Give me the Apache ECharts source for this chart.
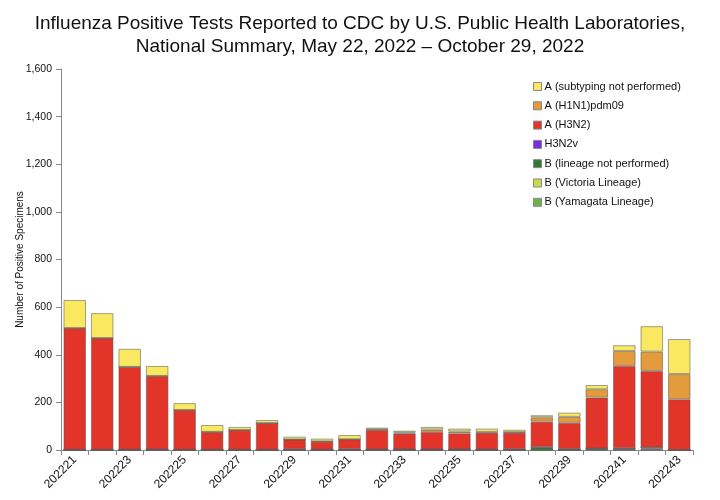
<!DOCTYPE html>
<html><head><meta charset="utf-8">
<script src="https://cdn.jsdelivr.net/npm/echarts@6/dist/echarts.min.js"></script>
<style>html,body{margin:0;padding:0;background:#fff}#c{width:720px;height:500px}</style>
</head><body><div id="c"></div>
<script>
const weeks = ['202221','202222','202223','202224','202225','202226','202227','202228','202229','202230','202231','202232','202233','202234','202235','202236','202237','202238','202239','202240','202241','202242','202243'];
const bYamagata = [0,0,0,0,0,0,0,0,0,0,0,0,0,0,0,0,0,0,0,0,0,0,0];
const bVictoria = [0,0,0,0,0,0,0,0,0,0,0,0,0,0,0,0,0,0,0,4,4,5,0];
const bLineageNP = [1,1,1,2,1,1,1,1,3,1,1,2,2,2,2,2,3,12,4,2,3,5,0];
const h3n2v = [0,0,0,0,0,0,0,0,0,0,2,0,0,0,0,0,0,0,0,0,0,0,0];
const aH3N2 = [511,469,348,309,167,75,83,112,41,34,42,82,67,74,68,71,70,107,110,214,346,322,213];
const aH1N1 = [0,0,0,0,0,0,0,0,0,1,0,2,4,10,8,3,2,18,25,35,63,81,106];
const aUnsub = [118,105,76,42,29,29,13,13,12,12,18,8,8,11,12,14,10,9,18,18,24,107,147];

const names = ['A (subtyping not performed)','A (H1N1)pdm09','A (H3N2)','H3N2v','B (lineage not performed)','B (Victoria Lineage)','B (Yamagata Lineage)'];
const colors = ['#FAE960','#E39B3B','#E3342A','#7B2BE3','#2F7A31','#C9DB4C','#6CB446'];
const dataBy = [aUnsub,aH1N1,aH3N2,h3n2v,bLineageNP,bVictoria,bYamagata];

const order = [6,5,4,3,2,1,0];
const series = order.map(i => ({
  name: names[i], type: 'bar', stack: 'all', data: dataBy[i],
  barCategoryGap: '18%',
  itemStyle: {color: colors[i], borderColor: 'rgba(90,90,90,0.55)', borderWidth: 1},
  emphasis: {disabled: true}
}));

const chart = echarts.init(document.getElementById('c'));
chart.setOption({
  animation: false,
  backgroundColor: '#fff',
  title: {
    text: 'Influenza Positive Tests Reported to CDC by U.S. Public Health Laboratories,\nNational Summary, May 22, 2022 – October 29, 2022',
    left: 'center', top: 7,
    textStyle: {fontFamily: 'Liberation Sans, Arial', fontSize: 19, fontWeight: 'normal', color: '#111', lineHeight: 23}
  },
  legend: {
    data: names, orient: 'vertical', left: 528, top: 76, itemGap: 8.3,
    itemWidth: 8, itemHeight: 8, icon: 'rect',
    textStyle: {fontFamily: 'Liberation Sans, Arial', fontSize: 11, color: '#111', padding: [0,0,0,-2]},
    itemStyle: {borderColor: '#888', borderWidth: 1}
  },
  grid: {left: 61, right: 27, top: 69, bottom: 50, containLabel: false, outerBoundsMode: 'none'},
  xAxis: {
    type: 'category', data: weeks,
    axisLine: {lineStyle: {color: '#888'}},
    axisTick: {show: true, lineStyle: {color: '#888'}, interval: 0},
    axisLabel: {interval: 1, rotate: 45, fontFamily: 'Liberation Sans, Arial', fontSize: 12, color: '#111', margin: 8}
  },
  yAxis: {
    type: 'value', min: 0, max: 1600, interval: 200,
    name: 'Number of Positive Specimens', nameLocation: 'middle', nameGap: 36,
    nameMoveOverlap: false,
    nameTextStyle: {fontFamily: 'Liberation Sans, Arial', fontSize: 10, color: '#111'},
    axisLine: {show: true, lineStyle: {color: '#888'}},
    axisTick: {show: true, lineStyle: {color: '#888'}},
    splitLine: {show: false},
    axisLabel: {fontFamily: 'Liberation Sans, Arial', fontSize: 10.5, color: '#111', margin: 9,
      formatter: v => v.toLocaleString('en-US')}
  },
  series: series
});
</script></body></html>
